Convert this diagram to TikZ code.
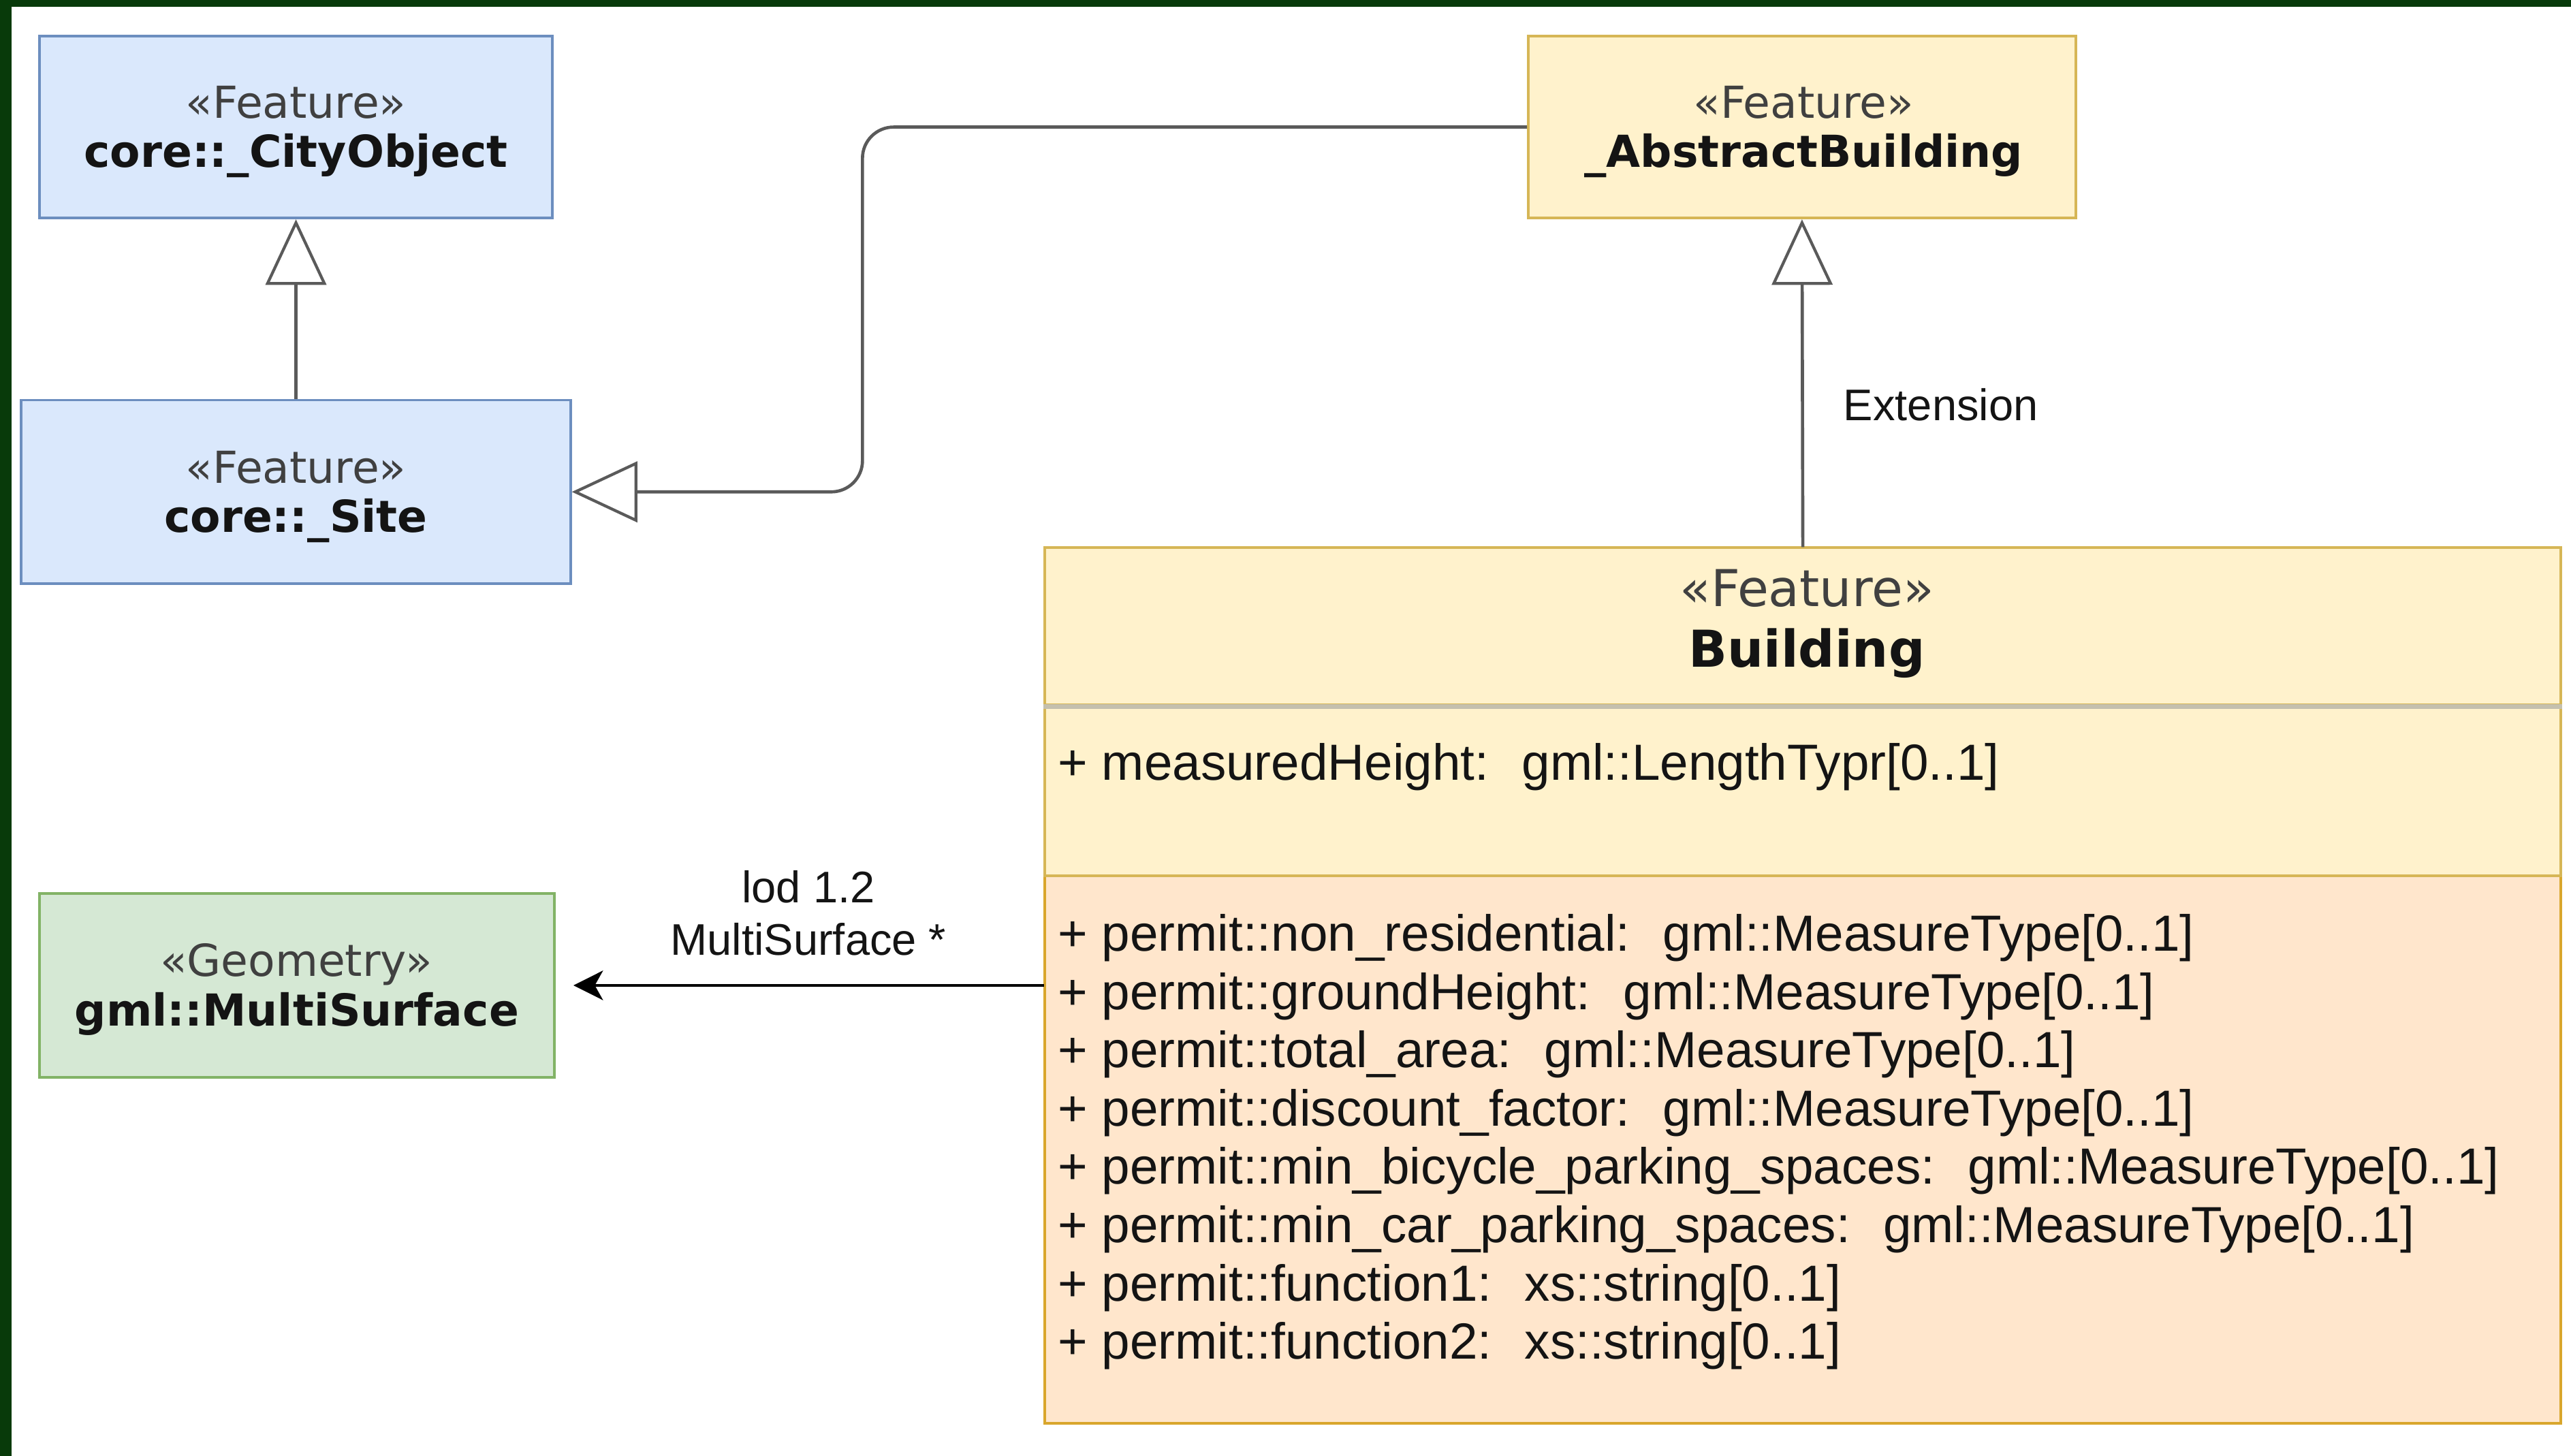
\documentclass[tikz,border=0pt]{standalone}
\usepackage{fontspec}
\setmainfont{Liberation Sans}
\newfontfamily\djv{DejaVu Sans}
\usetikzlibrary{arrows.meta}
\definecolor{frameg}{HTML}{083A0A}
\definecolor{bluefill}{HTML}{DAE8FC}
\definecolor{bluedraw}{HTML}{6C8EBF}
\definecolor{yelfill}{HTML}{FFF2CC}
\definecolor{yeldraw}{HTML}{D6B656}
\definecolor{grnfill}{HTML}{D5E8D4}
\definecolor{grndraw}{HTML}{82B366}
\definecolor{pchfill}{HTML}{FFE6CC}
\definecolor{pchdraw}{HTML}{D9A62C}
\definecolor{divgrey}{HTML}{C4C0AE}
\definecolor{linegrey}{HTML}{5A5A5A}
\definecolor{stereogrey}{HTML}{404040}
\definecolor{txt}{HTML}{141414}
\tikzset{
  umlbox/.style={draw, line width=0.9pt, inner sep=0pt},
  bluebox/.style={umlbox, fill=bluefill, draw=bluedraw},
  yelbox/.style={umlbox, fill=yelfill, draw=yeldraw},
  grnbox/.style={umlbox, fill=grnfill, draw=grndraw},
  boxtext/.style={inner sep=0pt, align=center, text=txt,
    font=\djv\fontsize{15.3pt}{17.07pt}\selectfont},
  genline/.style={draw=linegrey, line width=1.1pt,
    -{Triangle[length=0.8cm, width=0.74cm, fill=white, line width=1pt]}},
  assocline/.style={draw=black, line width=0.9pt,
    -{Stealth[length=0.36cm, width=0.36cm, inset=0.1cm]}, shorten >=0.22cm},
  lbl/.style={inner sep=0pt, text=txt, font=\fontsize{15.37pt}{18.2pt}\selectfont, align=center},
  attr/.style={inner sep=0pt, anchor=base west, text=txt, font=\fontsize{17.64pt}{20.24pt}\selectfont},
}
\newcommand{\stereo}[1]{{\color{stereogrey}#1}}
\begin{document}
\begin{tikzpicture}[x=0.02cm, y=-0.02cm]
\useasboundingbox (0,0) rectangle (1568,888);
\fill[white] (0,0) rectangle (1568,888);
% dark frame (top and left edges)
\fill[frameg] (0,0) rectangle (1568,4);
\fill[frameg] (0,0) rectangle (7,888);

% class boxes
\node[bluebox, minimum width=6.26cm, minimum height=2.22cm] (cityobj) at (180.5,77.5) {};
\node[boxtext] (cityobjtxt) at (180.5,80.5) {\stereo{«Feature»}\\\textbf{core::\_CityObject}};
\node[bluebox, minimum width=6.70cm, minimum height=2.24cm] (site) at (180.5,300) {};
\node[boxtext] (sitetxt) at (180.5,303) {\stereo{«Feature»}\\\textbf{core::\_Site}};
\node[yelbox, minimum width=6.68cm, minimum height=2.22cm] (abstract) at (1099,77.5) {};
\node[boxtext] (abstracttxt) at (1100,80.5) {\stereo{«Feature»}\\\textbf{\_AbstractBuilding}};
\node[grnbox, minimum width=6.28cm, minimum height=2.24cm] (multi) at (181,601) {};
\node[boxtext] (multitxt) at (181,603.5) {\stereo{«Geometry»}\\\textbf{gml::MultiSurface}};

% Building class with compartments
\node[draw=none, minimum width=18.5cm, minimum height=10.68cm, inner sep=0pt] (bldg) at (1099.5,601) {};
\node[fill=pchfill, draw=pchdraw, line width=0.9pt, minimum width=18.5cm, minimum height=6.68cm, inner sep=0pt] (bbot) at (1099.5,701) {};
\node[fill=yelfill, draw=yeldraw, line width=0.9pt, minimum width=18.5cm, minimum height=2.08cm, inner sep=0pt] (bmid) at (1099.5,482) {};
\node[fill=yelfill, draw=yeldraw, line width=0.9pt, minimum width=18.5cm, minimum height=1.92cm, inner sep=0pt] (bhead) at (1099.5,382) {};
\draw[divgrey, line width=1.6pt] (bhead.south west) -- (bhead.south east);
\node[inner sep=0pt, align=center, text=txt, font=\djv\fontsize{17.64pt}{21.06pt}\selectfont] (btitle) at (1102,380.5)
  {\stereo{«Feature»}\\\textbf{Building}};

% attributes
\node[attr] (a0) at (645,476) {+ measuredHeight:~ gml::LengthTypr[0..1]};
\node[attr] (a1) at (645,580) {+ permit::non\_residential:~ gml::MeasureType[0..1]};
\node[attr] (a2) at (645,615.6) {+ permit::groundHeight:~ gml::MeasureType[0..1]};
\node[attr] (a3) at (645,651.1) {+ permit::total\_area:~ gml::MeasureType[0..1]};
\node[attr] (a4) at (645,686.7) {+ permit::discount\_factor:~ gml::MeasureType[0..1]};
\node[attr] (a5) at (645,722.3) {+ permit::min\_bicycle\_parking\_spaces:~ gml::MeasureType[0..1]};
\node[attr] (a6) at (645,757.8) {+ permit::min\_car\_parking\_spaces:~ gml::MeasureType[0..1]};
\node[attr] (a7) at (645,793.4) {+ permit::function1:~ xs::string[0..1]};
\node[attr] (a8) at (645,829) {+ permit::function2:~ xs::string[0..1]};

% connectors
\draw[genline] (site.north) -- (cityobj.south);
\draw[genline] (bldg.north) -- (abstract.south);
\coordinate (k1) at (526,77.5);
\coordinate (k2) at (526,300);
\draw[genline, rounded corners=0.38cm] (abstract.west) -- (k1) -- (k2) -- (site.east);
\draw[assocline] (bldg.west) -- (multi.east);

% labels
\node[lbl, anchor=west] (extlbl) at (1124,247) {Extension};
\node[lbl] (assoclbl) at (493,557) {lod 1.2\\MultiSurface *};
\end{tikzpicture}
\end{document}
